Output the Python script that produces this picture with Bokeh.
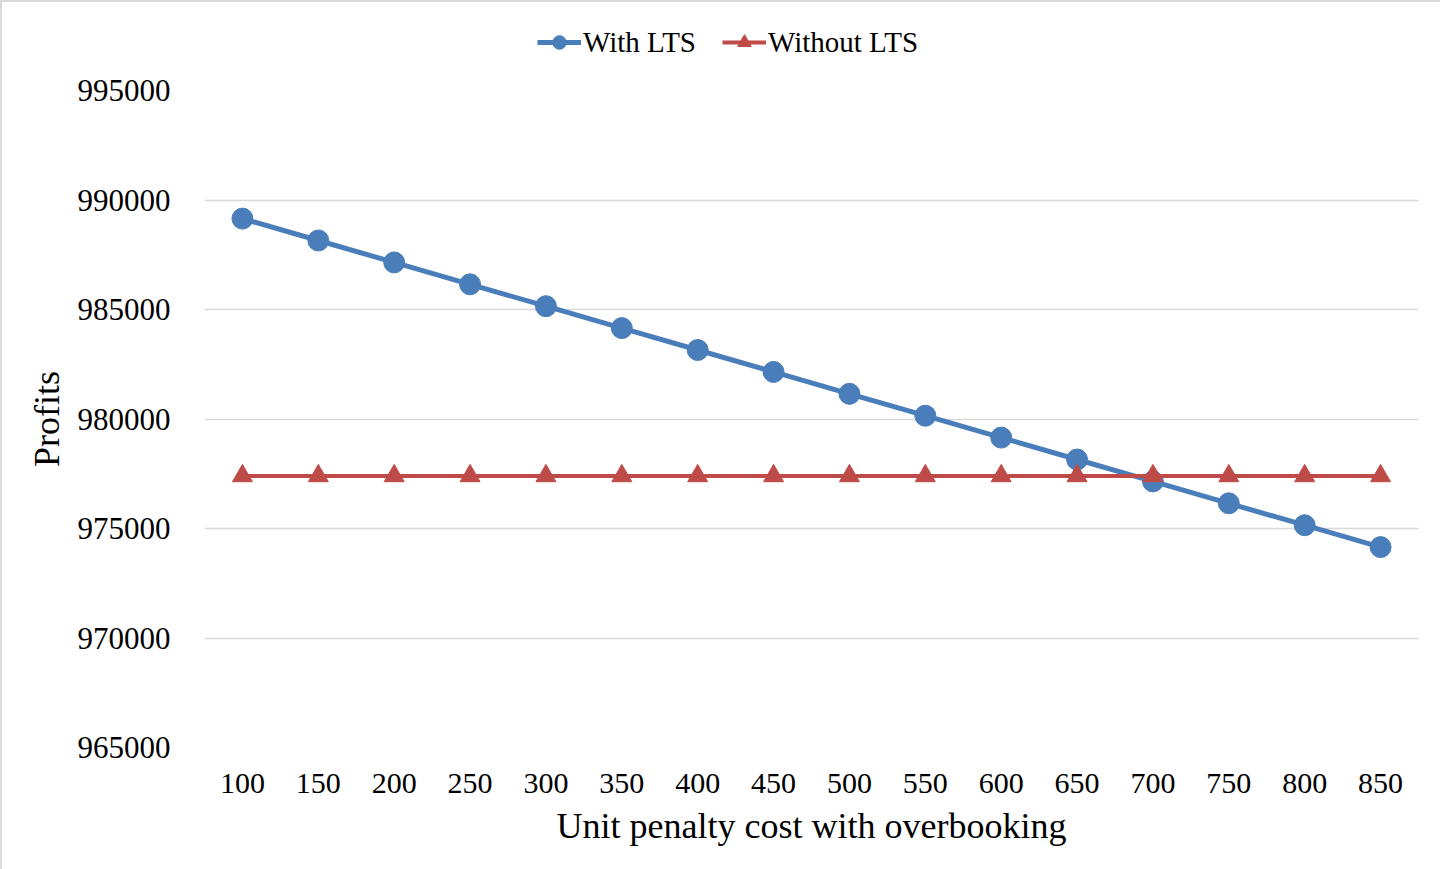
from bokeh.plotting import figure
from bokeh.layouts import column
from bokeh.models import (FactorRange, Range1d, FixedTicker, BasicTickFormatter,
                          Legend, LegendItem, ColumnDataSource)
from bokeh.embed import file_html
from bokeh.resources import INLINE

# ---- data ----
penalty = ["100", "150", "200", "250", "300", "350", "400", "450",
           "500", "550", "600", "650", "700", "750", "800", "850"]
with_lts = [989150, 988150, 987150, 986150, 985150, 984150, 983150, 982150,
            981150, 980150, 979150, 978150, 977150, 976150, 975150, 974150]
without_lts = [977400] * 16
y_ticks = [965000, 970000, 975000, 980000, 985000, 990000, 995000]

FONT = "Liberation Serif"
BLUE = "#4A7EBB"
RED = "#BE4B48"

src = ColumnDataSource(dict(x=penalty, w=with_lts, wo=without_lts))

# ---------- main chart ----------
p = figure(frame_width=1214, frame_height=657, x_range=FactorRange(*penalty),
           y_range=Range1d(965000, 995000), output_backend="svg",
           toolbar_location=None)
p.min_border_left = 202
p.min_border_right = 24
p.min_border_top = 18
p.min_border_bottom = 124
p.outline_line_color = None
p.background_fill_color = "white"
p.border_fill_color = "white"

p.line("x", "w", source=src, line_color=BLUE, line_width=5)
p.scatter("x", "w", source=src, marker="circle", size=21,
          fill_color=BLUE, line_color=BLUE)
p.line("x", "wo", source=src, line_color=RED, line_width=4)
p.scatter("x", "wo", source=src, marker="triangle", size=20,
          fill_color=RED, line_color=RED)

p.yaxis.ticker = FixedTicker(ticks=y_ticks)
p.yaxis.formatter = BasicTickFormatter(use_scientific=False)
for ax in (p.xaxis[0], p.yaxis[0]):
    ax.axis_line_color = None
    ax.major_tick_line_color = None
    ax.minor_tick_line_color = None
    ax.major_label_text_font = FONT
    ax.major_label_text_font_size = "31px"
    ax.major_label_text_color = "#000000"
    ax.axis_label_text_font = FONT
    ax.axis_label_text_font_size = "36px"
    ax.axis_label_text_font_style = "normal"
    ax.axis_label_text_color = "#000000"
p.xaxis.major_label_text_font_size = "30px"
p.yaxis.major_label_standoff = 28
p.yaxis.axis_label = "Profits"
p.yaxis.axis_label_standoff = 8
p.xaxis.major_label_standoff = 20
p.xaxis.axis_label = "Unit penalty cost with overbooking"
p.xaxis.axis_label_standoff = 10

p.xgrid.grid_line_color = None
p.ygrid.ticker = FixedTicker(ticks=y_ticks)
p.ygrid.grid_line_color = "#d9d9d9"
p.ygrid.grid_line_width = 1.5

# ---------- legend strip on top (series drawn out of its view) ----------
t = figure(frame_width=1440, frame_height=70, x_range=FactorRange(*penalty),
           y_range=Range1d(0, 1), output_backend="svg", toolbar_location=None)
t.min_border = 0
t.axis.visible = False
t.grid.visible = False
t.outline_line_color = None
t.background_fill_color = "white"
t.border_fill_color = "white"
a1 = t.line("x", "w", source=src, line_color=BLUE, line_width=5)
b1 = t.scatter("x", "w", source=src, marker="circle", size=21,
               fill_color=BLUE, line_color=BLUE)
a2 = t.line("x", "wo", source=src, line_color=RED, line_width=4)
b2 = t.scatter("x", "wo", source=src, marker="triangle", size=20,
               fill_color=RED, line_color=RED)

legend = Legend(items=[LegendItem(label="With LTS", renderers=[a1, b1]),
                       LegendItem(label="Without LTS", renderers=[a2, b2])],
                orientation="horizontal", location=(535, 13))
legend.label_text_font = FONT
legend.label_text_font_size = "29px"
legend.label_text_color = "#000000"
legend.glyph_width = 44
legend.glyph_height = 34
legend.label_standoff = 2
legend.spacing = 26
legend.border_line_color = None
legend.background_fill_alpha = 0
legend.margin = 0
legend.padding = 0
t.add_layout(legend, "center")

layout = column(t, p, spacing=0)
layout.styles = {"border": "2px solid #d9d9d9"}

open("out.html", "w").write(file_html(layout, INLINE))
